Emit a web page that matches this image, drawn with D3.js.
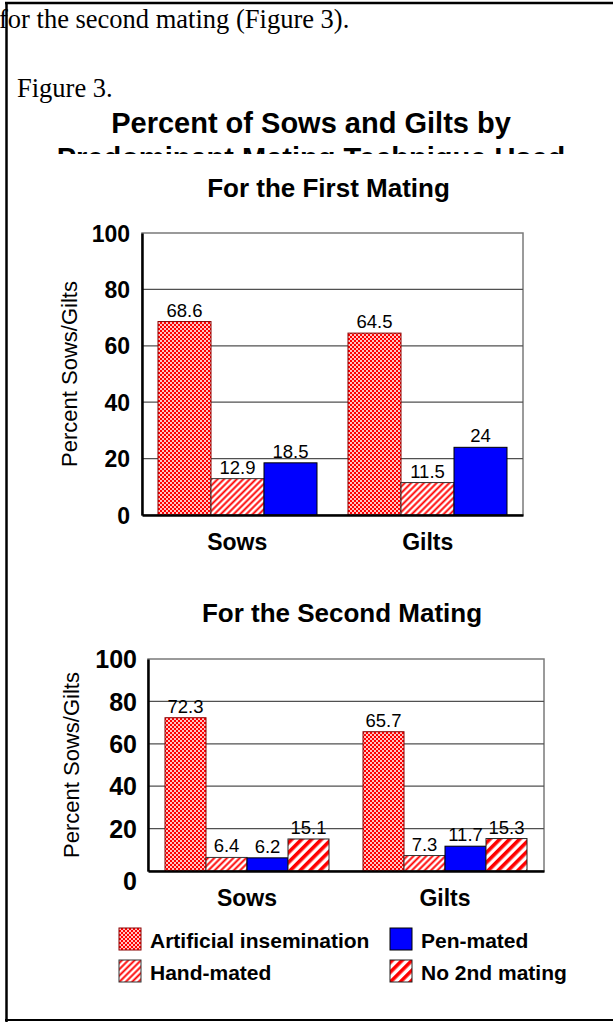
<!DOCTYPE html>
<html>
<head>
<meta charset="utf-8">
<script src="https://cdn.jsdelivr.net/npm/d3@7"></script>
<style>
body { margin: 0; background: #fff; }
</style>
</head>
<body>
<script>
// Figure 3 values
const categories = ['Sows', 'Gilts'];
const seriesNames = ['Artificial insemination', 'Hand-mated', 'Pen-mated', 'No 2nd mating'];
const firstAI = [68.6, 64.5];
const firstHand = [12.9, 11.5];
const firstPen = [18.5, 24];
const secondAI = [72.3, 65.7];
const secondHand = [6.4, 7.3];
const secondPen = [6.2, 11.7];
const secondNone = [15.1, 15.3];
const yTicks = [0, 20, 40, 60, 80, 100];

const width = 613;
const height = 1022;
const sans = '"Liberation Sans", Arial, sans-serif';
const serif = '"Liberation Serif", "Times New Roman", serif';

const svg = d3.select('body').append('svg')
    .attr('width', width)
    .attr('height', height);

const defs = svg.append('defs');

// checkerboard for artificial insemination
const pAI = defs.append('pattern').attr('id', 'pat-ai')
    .attr('patternUnits', 'userSpaceOnUse').attr('width', 4).attr('height', 4);
pAI.append('rect').attr('width', 4).attr('height', 4).attr('fill', '#ff0000');
pAI.append('rect').attr('width', 2).attr('height', 2).attr('fill', '#ffc4c4');
pAI.append('rect').attr('x', 2).attr('y', 2).attr('width', 2).attr('height', 2).attr('fill', '#ffc4c4');
pAI.selectAll('rect').attr('shape-rendering', 'crispEdges');

// thin diagonal lines for hand-mated
const pHand = defs.append('pattern').attr('id', 'pat-hand')
    .attr('patternUnits', 'userSpaceOnUse').attr('width', 4.5).attr('height', 4.5)
    .attr('patternTransform', 'rotate(45)');
pHand.append('rect').attr('width', 4.5).attr('height', 4.5).attr('fill', '#fff');
pHand.append('rect').attr('x', 1.3).attr('width', 1.9).attr('height', 4.5).attr('fill', '#ff0000');

// wide stripes for no 2nd mating
const pNone = defs.append('pattern').attr('id', 'pat-none')
    .attr('patternUnits', 'userSpaceOnUse').attr('width', 7).attr('height', 7)
    .attr('patternTransform', 'rotate(45)');
pNone.append('rect').attr('width', 7).attr('height', 7).attr('fill', '#fff');
pNone.append('rect').attr('width', 3.6).attr('height', 7).attr('fill', '#ff0000');

const fills = {
    'Artificial insemination': 'url(#pat-ai)',
    'Hand-mated': 'url(#pat-hand)',
    'Pen-mated': '#0000ff',
    'No 2nd mating': 'url(#pat-none)'
};
const strokes = {
    'Artificial insemination': '#8a0000',
    'Hand-mated': '#333',
    'Pen-mated': '#000',
    'No 2nd mating': '#222'
};

// page text above the figure
svg.append('text')
    .attr('x', -1).attr('y', 28)
    .attr('font-family', serif).attr('font-size', 26.5)
    .text('for the second mating (Figure 3).');

svg.append('text')
    .attr('x', 17).attr('y', 97)
    .attr('font-family', serif).attr('font-size', 26.5)
    .text('Figure 3.');

svg.append('text')
    .attr('x', 311).attr('y', 133)
    .attr('text-anchor', 'middle')
    .attr('font-family', sans).attr('font-size', 29).attr('font-weight', 'bold')
    .text('Percent of Sows and Gilts by');

// second title line is cut off in the original
defs.append('clipPath').attr('id', 'title-clip')
    .append('rect').attr('x', 0).attr('y', 100).attr('width', width).attr('height', 54);
svg.append('text')
    .attr('clip-path', 'url(#title-clip)')
    .attr('x', 311).attr('y', 168)
    .attr('text-anchor', 'middle')
    .attr('font-family', sans).attr('font-size', 29).attr('font-weight', 'bold')
    .text('Predominant Mating Technique Used');

function drawPanel(opt) {
    const x0 = d3.scaleBand()
        .domain(categories)
        .range(opt.xRange)
        .paddingInner(0);

    const x1 = d3.scaleBand()
        .domain(opt.keys)
        .range([0, x0.bandwidth()])
        .paddingInner(0)
        .paddingOuter(opt.outerPad);

    const y = d3.scaleLinear()
        .domain([0, 100])
        .range(opt.yRange);

    const g = svg.append('g');

    g.append('text')
        .attr('x', (opt.xRange[0] + opt.xRange[1]) / 2 - 4)
        .attr('y', opt.titleY)
        .attr('text-anchor', 'middle')
        .attr('font-family', sans).attr('font-size', 26).attr('font-weight', 'bold')
        .text(opt.title);

    // plot frame
    g.append('rect')
        .attr('x', opt.xRange[0]).attr('y', y(100))
        .attr('width', opt.xRange[1] - opt.xRange[0])
        .attr('height', y(0) - y(100))
        .attr('fill', '#fff').attr('stroke', '#7a7a7a').attr('stroke-width', 1.5);

    g.selectAll('.grid')
        .data(yTicks.filter(d => d > 0 && d < 100))
        .enter().append('line')
        .attr('x1', opt.xRange[0]).attr('x2', opt.xRange[1])
        .attr('y1', d => y(d)).attr('y2', d => y(d))
        .attr('stroke', '#505050').attr('stroke-width', 1.2);

    const rows = [];
    categories.forEach((c, ci) => {
        opt.keys.forEach((k, si) => rows.push({ cat: c, key: k, value: opt.values[si][ci] }));
    });

    // no group transform, so the pattern tiles stay on whole pixels
    const bx = d => Math.round(x0(d.cat) + x1(d.key));
    const bw = d => Math.round(x0(d.cat) + x1(d.key) + x1.bandwidth()) - bx(d);

    const bars = g.selectAll('.bar')
        .data(rows)
        .enter().append('g');

    bars.append('rect')
        .attr('x', bx)
        .attr('y', d => y(d.value))
        .attr('width', bw)
        .attr('height', d => y(0) - y(d.value))
        .attr('fill', d => fills[d.key])
        .attr('stroke', d => strokes[d.key])
        .attr('stroke-width', 1);

    bars.append('text')
        .attr('x', d => bx(d) + bw(d) / 2)
        .attr('y', d => y(d.value) - 5)
        .attr('text-anchor', 'middle')
        .attr('font-family', sans).attr('font-size', 18.5)
        .text(d => d.value);

    const yAxis = g.append('g')
        .attr('transform', `translate(${opt.xRange[0]},0)`)
        .call(d3.axisLeft(y).tickValues(yTicks).tickSize(0).tickSizeOuter(0).tickPadding(opt.yPad));
    yAxis.select('.domain').attr('stroke', '#000').attr('stroke-width', 2.5);
    yAxis.selectAll('text')
        .attr('font-family', sans).attr('font-size', opt.tickFont).attr('font-weight', 'bold')
        .attr('fill', '#000')
        .attr('dy', d => d === 0 ? opt.zeroDy : '0.35em');

    const xAxis = g.append('g')
        .attr('transform', `translate(0,${y(0)})`)
        .call(d3.axisBottom(x0).tickSize(0).tickSizeOuter(0).tickPadding(19));
    xAxis.select('.domain').attr('stroke', '#000').attr('stroke-width', 2.5);
    xAxis.selectAll('text')
        .attr('font-family', sans).attr('font-size', 23).attr('font-weight', 'bold')
        .attr('fill', '#000');

    g.append('text')
        .attr('transform', `translate(${opt.yTitleX},${(y(0) + y(100)) / 2}) rotate(-90)`)
        .attr('text-anchor', 'middle')
        .attr('dy', '0.35em')
        .attr('font-family', sans).attr('font-size', 22)
        .text('Percent Sows/Gilts');
}

drawPanel({
    title: 'For the First Mating',
    titleY: 197,
    keys: seriesNames.slice(0, 3),
    values: [firstAI, firstHand, firstPen],
    xRange: [142, 523],
    yRange: [515, 233],
    outerPad: 0.3,
    yPad: 12,
    tickFont: 23,
    zeroDy: '0.35em',
    yTitleX: 69
});

drawPanel({
    title: 'For the Second Mating',
    titleY: 622,
    keys: seriesNames,
    values: [secondAI, secondHand, secondPen, secondNone],
    xRange: [148, 544],
    yRange: [871, 659],
    outerPad: 0.415,
    yPad: 11,
    tickFont: 25,
    zeroDy: '0.75em',
    yTitleX: 71
});

// legend
const legendCols = [119, 390];
const legendRows = [928, 960];
const legendOrder = ['Artificial insemination', 'Pen-mated', 'Hand-mated', 'No 2nd mating'];

const legend = svg.selectAll('.legend')
    .data(legendOrder)
    .enter().append('g')
    .attr('transform', (d, i) => `translate(${legendCols[i % 2]},${legendRows[Math.floor(i / 2)]})`);

legend.append('rect')
    .attr('width', 22).attr('height', 22)
    .attr('fill', d => fills[d])
    .attr('stroke', d => strokes[d]).attr('stroke-width', 1);

legend.append('text')
    .attr('x', 31).attr('y', 20)
    .attr('font-family', sans).attr('font-size', 21).attr('font-weight', 'bold')
    .text(d => d);

// cell border round the figure
svg.append('line').attr('x1', 5).attr('x2', width).attr('y1', 3).attr('y2', 3)
    .attr('stroke', '#000').attr('stroke-width', 2.5);
svg.append('line').attr('x1', 6.5).attr('x2', 6.5).attr('y1', 2).attr('y2', height)
    .attr('stroke', '#000').attr('stroke-width', 2.5);
svg.append('line').attr('x1', 5).attr('x2', width).attr('y1', 1020).attr('y2', 1020)
    .attr('stroke', '#000').attr('stroke-width', 2);
</script>
</body>
</html>
